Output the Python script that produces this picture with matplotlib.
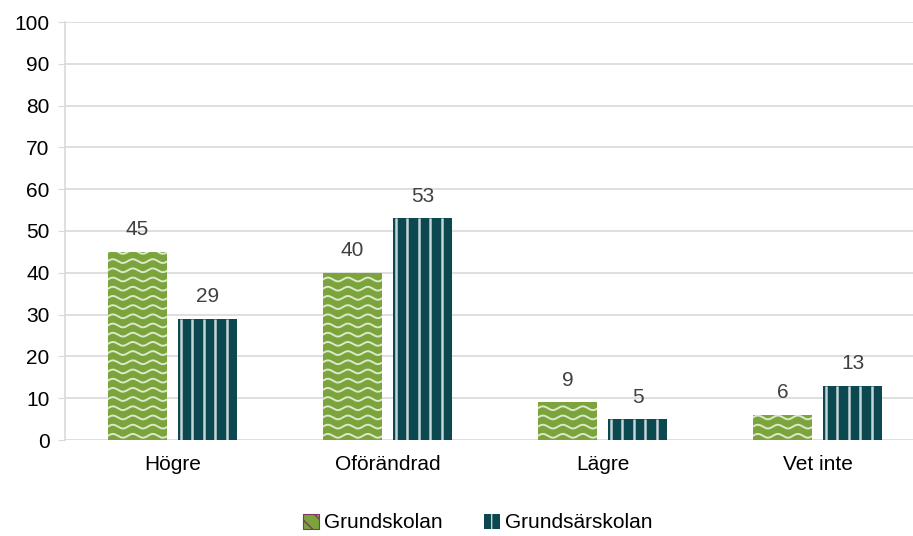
import numpy as np
import matplotlib.pyplot as plt
from matplotlib.patches import Patch

plt.rcParams['font.family'] = ['Liberation Sans', 'DejaVu Sans']

categories = ['Högre', 'Oförändrad', 'Lägre', 'Vet inte']
series_names = ['Grundskolan', 'Grundsärskolan']
grundskolan = [45, 40, 9, 6]
grundsarskolan = [29, 53, 5, 13]

green = '#7ba43c'
teal = '#0b4850'
stripe = '#c5d6d8'

fig = plt.figure(figsize=(9.13, 5.36), dpi=100)
ax = fig.add_axes([65 / 913, 96 / 536, 860 / 913, 418 / 536])

x = np.arange(len(categories))
w = 0.275
off = 0.163

b1 = ax.bar(x - off, grundskolan, w, color=green, zorder=2)
b2 = ax.bar(x + off, grundsarskolan, w, color=teal, zorder=2)

# wavy texture on the green bars
for r in b1:
    x0, y0 = r.get_x(), r.get_y()
    xs = np.linspace(x0, x0 + r.get_width(), 200)
    for k in np.arange(1.0, r.get_height() + 3, 2.2):
        ys = y0 + k + 0.45 * np.sin(2 * np.pi * (xs - x0) / 0.093)
        ln, = ax.plot(xs, ys, color='#dde8ca', lw=1.4, zorder=3)
        ln.set_clip_path(r)

# vertical stripes on the teal bars
for r in b2:
    x0 = r.get_x()
    for sx in np.arange(x0 + 0.012, x0 + r.get_width(), 0.054):
        ln = ax.vlines(sx, 0, r.get_height(), color=stripe, lw=1.8, zorder=3)
        ln.set_clip_path(r)

for bars, vals in ((b1, grundskolan), (b2, grundsarskolan)):
    for r, v in zip(bars, vals):
        ax.text(r.get_x() + r.get_width() / 2, v + 3, str(v), ha='center',
                va='bottom', fontsize=15, color='#404040')

ax.set_xlim(-0.5, len(categories) - 0.5)
ax.set_ylim(0, 100)
ax.set_yticks(range(0, 101, 10))
ax.set_xticks(x)
ax.set_xticklabels(categories)
ax.tick_params(axis='x', length=0, labelsize=15, pad=11)
ax.tick_params(axis='y', length=5, color='#d9d9d9', labelsize=15, pad=6)
ax.grid(axis='y', color='#d9d9d9', lw=1.2, zorder=0)
ax.set_axisbelow(True)
for s in ['top', 'right', 'bottom']:
    ax.spines[s].set_visible(False)
ax.spines['left'].set_color('#d9d9d9')
ax.spines['left'].set_linewidth(1.2)

handles = [Patch(facecolor=green, edgecolor='#7a3a6a', hatch='\\\\', lw=0.8),
           Patch(facecolor=teal, edgecolor=stripe, hatch='|', lw=0)]
fig.legend(handles, series_names, loc='center', bbox_to_anchor=(478 / 913, 1 - 523 / 536),
           ncol=2, frameon=False, fontsize=15, handlelength=0.75, handleheight=0.75,
           handletextpad=0.25, columnspacing=2.0)

fig.savefig('out.png', dpi=100)
